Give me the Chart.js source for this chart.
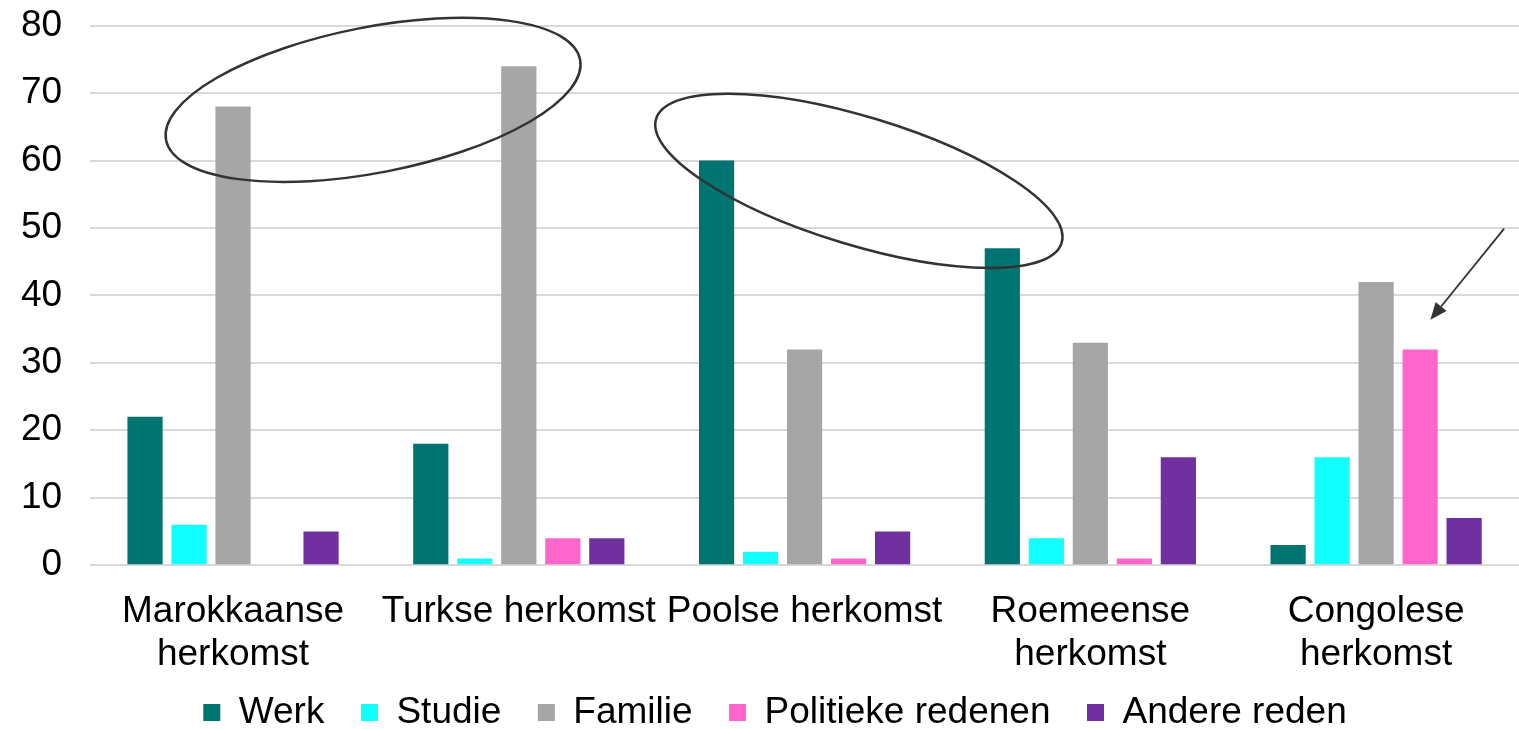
<!DOCTYPE html>
<html>
<head>
<meta charset="utf-8">
<script src="https://cdn.jsdelivr.net/npm/chart.js@4.4.0/dist/chart.umd.min.js"></script>
<style>
  body { margin: 0; background: #fff; }
  #wrap { width: 1519px; height: 729px; }
</style>
</head>
<body>
<div id="wrap"><canvas id="chart" width="1519" height="729"></canvas></div>
<script>
const categories = [
  ["Marokkaanse", "herkomst"],
  "Turkse herkomst",
  "Poolse herkomst",
  ["Roemeense", "herkomst"],
  ["Congolese", "herkomst"]
];

const werk = [22, 18, 60, 47, 3];
const studie = [6, 1, 2, 4, 16];
const familie = [68, 74, 32, 33, 42];
const politiekeRedenen = [0, 4, 1, 1, 32];
const andereReden = [5, 4, 5, 16, 7];

const yTicks = [0, 10, 20, 30, 40, 50, 60, 70, 80];

// annotations: x in category units, y in value units
const ellipses = [
  { x: 0.49, y: 69, rx: 0.738, ry: 10.8, angle: -11 },
  { x: 2.19, y: 57, rx: 0.742, ry: 9.5, angle: 17 }
];
const arrows = [
  { x1: 4.448, y1: 49.9, x2: 4.19, y2: 36.4 }
];

const font = "'Liberation Sans', Arial, sans-serif";

const annotationPlugin = {
  id: 'annotations',
  afterLayout: function (chart) {
    // legend sits a little right of the canvas centre in the original
    chart.legend.left += 32;
  },
  afterDraw: function (chart) {
    const ctx = chart.ctx;
    const xs = chart.scales.x;
    const ys = chart.scales.y;
    const catW = xs.getPixelForValue(1) - xs.getPixelForValue(0);
    const unit = Math.abs(ys.getPixelForValue(0) - ys.getPixelForValue(1));
    const px = v => xs.getPixelForValue(0) + v * catW;

    ctx.save();
    ctx.strokeStyle = '#333333';
    ctx.fillStyle = '#333333';
    ctx.lineWidth = 2.5;

    ellipses.forEach(e => {
      ctx.beginPath();
      ctx.ellipse(px(e.x), ys.getPixelForValue(e.y), e.rx * catW, e.ry * unit,
        e.angle * Math.PI / 180, 0, Math.PI * 2);
      ctx.stroke();
    });

    ctx.lineWidth = 1.8;
    arrows.forEach(a => {
      const x1 = px(a.x1), y1 = ys.getPixelForValue(a.y1);
      const x2 = px(a.x2), y2 = ys.getPixelForValue(a.y2);
      const ang = Math.atan2(y2 - y1, x2 - x1);
      const head = 17, half = 7;
      const bx = x2 - head * Math.cos(ang), by = y2 - head * Math.sin(ang);
      ctx.beginPath();
      ctx.moveTo(x1, y1);
      ctx.lineTo(bx, by);
      ctx.stroke();
      ctx.beginPath();
      ctx.moveTo(x2, y2);
      ctx.lineTo(bx + half * Math.sin(ang), by - half * Math.cos(ang));
      ctx.lineTo(bx - half * Math.sin(ang), by + half * Math.cos(ang));
      ctx.closePath();
      ctx.fill();
    });
    ctx.restore();
  }
};

const ctx = document.getElementById('chart').getContext('2d');

new Chart(ctx, {
  type: 'bar',
  data: {
    labels: categories,
    datasets: [
      { label: 'Werk', data: werk, backgroundColor: '#007470' },
      { label: 'Studie', data: studie, backgroundColor: '#11ffff' },
      { label: 'Familie', data: familie, backgroundColor: '#a6a6a6' },
      { label: 'Politieke redenen', data: politiekeRedenen, backgroundColor: '#ff66cc' },
      { label: 'Andere reden', data: andereReden, backgroundColor: '#7030a0' }
    ]
  },
  options: {
    responsive: false,
    animation: false,
    categoryPercentage: 0.77,
    barPercentage: 0.8,
    layout: { padding: { top: 0, right: 0, left: -1, bottom: -12 } },
    scales: {
      x: {
        grid: { display: false, drawTicks: true, tickLength: 25 },
        border: { display: false },
        ticks: {
          color: '#000',
          font: { family: font, size: 37, lineHeight: 1.16 },
          padding: 0,
          maxRotation: 0,
          autoSkip: false
        }
      },
      y: {
        min: 0,
        max: 80,
        afterBuildTicks: function (axis) {
          axis.ticks = yTicks.map(v => ({ value: v }));
        },
        grid: { color: '#d9d9d9', lineWidth: 2, tickLength: 6, tickColor: 'rgba(0,0,0,0)' },
        border: { display: false },
        ticks: {
          color: '#000',
          font: { family: font, size: 37, lineHeight: 0.2 },
          padding: 22
        }
      }
    },
    plugins: {
      legend: {
        position: 'bottom',
        labels: {
          color: '#000',
          font: { family: font, size: 37 },
          boxWidth: 17,
          boxHeight: 17,
          padding: 18,
          generateLabels: function (chart) {
            const items = Chart.defaults.plugins.legend.labels.generateLabels(chart);
            items.forEach((item, i) => {
              if (i < items.length - 1) item.text = item.text + '\u2002';
            });
            return items;
          }
        }
      },
      tooltip: { enabled: false }
    }
  },
  plugins: [annotationPlugin]
});
</script>
</body>
</html>
